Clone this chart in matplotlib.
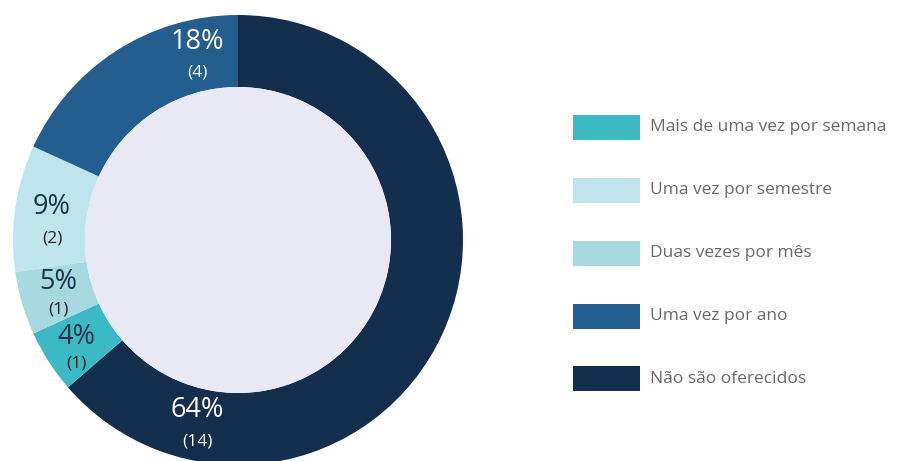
import matplotlib
matplotlib.use("Agg")
import matplotlib.pyplot as plt
from matplotlib.patches import Circle, Rectangle

# wedge data, clockwise from 12 o'clock
categories = ["Não são oferecidos", "Mais de uma vez por semana", "Duas vezes por mês",
              "Uma vez por semestre", "Uma vez por ano"]
counts = [14, 1, 1, 2, 4]
pct_labels = ["64%", "4%", "5%", "9%", "18%"]
colors = ["#142F4E", "#3BBAC6", "#A6D9E0", "#BFE5EC", "#245E8E"]

# legend order as shown on the right
legend_order = ["Mais de uma vez por semana", "Uma vez por semestre", "Duas vezes por mês",
                "Uma vez por ano", "Não são oferecidos"]

W, H = 899, 461
CX, CY = 238, H - 240       # donut centre in pixel coords (y up)
R_OUT, R_IN = 225, 153

# label layout (pixel coords from top): pct centre, count centre, colours
label_pos = {
    "64%": ((197, 410), (197, 442), "white"),
    "4%": ((76, 337), (76, 364), "#1B3350"),
    "5%": ((58, 282), (58, 310), "#1B3350"),
    "9%": ((52, 207), (52, 238), "#1B3350"),
    "18%": ((197, 42), (197, 72), "white"),
}

plt.rcParams["font.family"] = ["Open Sans", "DejaVu Sans"]

fig = plt.figure(figsize=(W / 100, H / 100), dpi=100)
ax = fig.add_axes([0, 0, 1, 1])

ax.pie(counts, colors=colors, startangle=90, counterclock=False,
       radius=R_OUT, center=(CX, CY), wedgeprops=dict(width=R_OUT - R_IN, linewidth=0))
ax.add_patch(Circle((CX, CY), R_IN, fc="#E8E9F5", ec="none", zorder=3))

for lab, n in zip(pct_labels, counts):
    (px, py), (qx, qy), col = label_pos[lab]
    ax.text(px, H - py, lab, ha="center", va="center", fontsize=19.5, color=col, zorder=5)
    cnt_col = "white" if col == "white" else "#222222"
    ax.text(qx, H - qy, f"({n})", ha="center", va="center", fontsize=12.5, color=cnt_col, zorder=5)

# legend
for i, name in enumerate(legend_order):
    col = colors[categories.index(name)]
    yc = H - (127 + i * 63)
    ax.add_patch(Rectangle((573, yc - 12.5), 67, 25, fc=col, ec="none"))
    ax.text(650, yc, name, ha="left", va="center", fontsize=12.5, color="#6A6A6A")

ax.set_xlim(0, W)
ax.set_ylim(0, H)
ax.set_aspect("equal")
ax.axis("off")

fig.savefig("out.png", dpi=100, facecolor="white")
